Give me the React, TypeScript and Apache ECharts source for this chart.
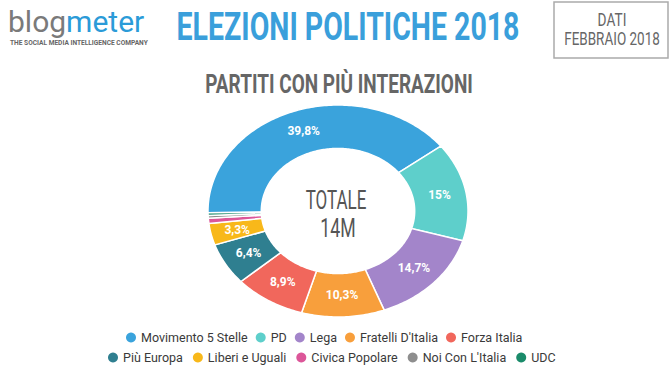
import React, { useEffect, useRef } from "react";
import * as echarts from "echarts";

const parties = [
  "Movimento 5 Stelle",
  "PD",
  "Lega",
  "Fratelli D'Italia",
  "Forza Italia",
  "Più Europa",
  "Liberi e Uguali",
  "Civica Popolare",
  "Noi Con L'Italia",
  "UDC",
];
const shares = [39.8, 15, 14.7, 10.3, 8.9, 6.4, 3.3, 0.8, 0.4, 0.4];
const partyColors = [
  "#3aa3dc",
  "#5ecfcb",
  "#a385ca",
  "#f89f3c",
  "#f1675c",
  "#2f7f90",
  "#f8b81a",
  "#dc5699",
  "#8e8e8e",
  "#1a8b6a",
];
const legendRow1 = parties.slice(0, 5);
const legendRow2 = parties.slice(5);
const totalLabel = ["TOTALE", "14M"];

export default function App() {
  const ref = useRef<HTMLDivElement>(null);

  useEffect(() => {
    if (!ref.current) return;
    const chart = echarts.init(ref.current, null, { renderer: "svg" });

    const total = shares.reduce((a, b) => a + b, 0);
    const starts: number[] = [];
    let acc = 0;
    shares.forEach((v) => {
      starts.push(acc);
      acc += v;
    });

    const CX = 338;
    const CY = 211;
    const RX = 130;
    const RY = 106;
    const INNER = 0.59;
    const START_ANGLE = 181;

    const pt = (deg: number, r: number) => {
      const a = (deg * Math.PI) / 180;
      return [CX + r * RX * Math.cos(a), CY - r * RY * Math.sin(a)];
    };

    const renderItem = (params: any, api: any) => {
      const s = api.value(0);
      const v = api.value(1);
      const a0 = START_ANGLE - (s / total) * 360;
      const a1 = START_ANGLE - ((s + v) / total) * 360;
      const steps = Math.max(2, Math.ceil(Math.abs(a0 - a1) / 1) + 1);
      const pts: number[][] = [];
      for (let i = 0; i <= steps; i++) pts.push(pt(a0 + ((a1 - a0) * i) / steps, 1));
      for (let i = steps; i >= 0; i--) pts.push(pt(a0 + ((a1 - a0) * i) / steps, INNER));
      const mid = (a0 + a1) / 2;
      const lp = pt(mid, (1 + INNER) / 2);
      const children: any[] = [
        {
          type: "polygon",
          shape: { points: pts },
          style: { fill: api.visual("color"), stroke: "#fff", lineWidth: 1.5 },
        },
      ];
      if (v >= 2) {
        children.push({
          type: "text",
          style: {
            text: String(v).replace(".", ",") + "%",
            x: lp[0],
            y: lp[1],
            fill: "#fff",
            fontSize: 12,
            fontWeight: "bold",
            fontFamily: "Roboto",
            align: "center",
            verticalAlign: "middle",
          },
        });
      }
      return { type: "group", children };
    };

    const series = parties.map((name, i) => ({
      type: "custom",
      name,
      coordinateSystem: "none",
      silent: true,
      itemStyle: { color: partyColors[i] },
      data: [[starts[i], shares[i]]],
      renderItem,
    }));

    const legendCommon = {
      icon: "circle",
      itemWidth: 10,
      itemHeight: 10,
      itemGap: 8,
      textStyle: { color: "#3a3a3a", fontSize: 12.5, fontFamily: "Roboto" },
      selectedMode: false,
    };

    chart.setOption({
      animation: false,
      backgroundColor: "#fff",
      legend: [
        { ...legendCommon, left: 121, top: 326, data: legendRow1 },
        { ...legendCommon, left: 103, top: 346, itemGap: 10, data: legendRow2 },
      ],
      graphic: [
        {
          type: "text",
          x: 8,
          y: 21,
          style: {
            text: "{a|blog}{b|meter}",
            rich: {
              a: { fill: "#7a7a7a", fontSize: 30, fontFamily: "Roboto" },
              b: { fill: "#2b9bd8", fontSize: 30, fontFamily: "Roboto" },
            },
            verticalAlign: "middle",
          },
        },
        {
          type: "text",
          x: 10,
          y: 43,
          style: {
            text: "THE SOCIAL MEDIA INTELLIGENCE COMPANY",
            fill: "#666",
            fontSize: 6.6,
            fontWeight: "bold",
            fontFamily: "Roboto",
            verticalAlign: "middle",
          },
        },
        {
          type: "text",
          x: 348,
          y: 27,
          scaleX: 0.75,
          style: {
            text: "ELEZIONI POLITICHE 2018",
            fill: "#3a9fdb",
            fontSize: 38,
            fontWeight: "bold",
            fontFamily: "Roboto",
            align: "center",
            verticalAlign: "middle",
          },
        },
        {
          type: "rect",
          shape: { x: 554, y: 2, width: 114, height: 56 },
          style: { fill: "none", stroke: "#aaa", lineWidth: 1.5 },
        },
        {
          type: "text",
          x: 612,
          y: 20,
          scaleX: 0.72,
          style: {
            text: "DATI",
            fill: "#666",
            fontSize: 19,
            fontFamily: "Roboto",
            align: "center",
            verticalAlign: "middle",
          },
        },
        {
          type: "text",
          x: 612,
          y: 39,
          scaleX: 0.71,
          style: {
            text: "FEBBRAIO 2018",
            fill: "#666",
            fontSize: 19,
            fontFamily: "Roboto",
            align: "center",
            verticalAlign: "middle",
          },
        },
        {
          type: "text",
          x: 339,
          y: 84,
          scaleX: 0.73,
          style: {
            text: "PARTITI CON PIÙ INTERAZIONI",
            fill: "#666",
            fontSize: 26,
            fontWeight: "bold",
            fontFamily: "Roboto",
            align: "center",
            verticalAlign: "middle",
          },
        },
        {
          type: "text",
          x: 336,
          y: 200,
          scaleX: 0.68,
          style: {
            text: totalLabel[0],
            fill: "#555",
            fontSize: 25,
            fontFamily: "Roboto",
            align: "center",
            verticalAlign: "middle",
          },
        },
        {
          type: "text",
          x: 338,
          y: 228,
          scaleX: 0.68,
          style: {
            text: totalLabel[1],
            fill: "#555",
            fontSize: 26,
            fontFamily: "Roboto",
            align: "center",
            verticalAlign: "middle",
          },
        },
      ],
      series,
    });

    return () => chart.dispose();
  }, []);

  return (
    <div
      ref={ref}
      style={{ position: "absolute", left: 0, top: 0, width: 670, height: 377 }}
    />
  );
}
